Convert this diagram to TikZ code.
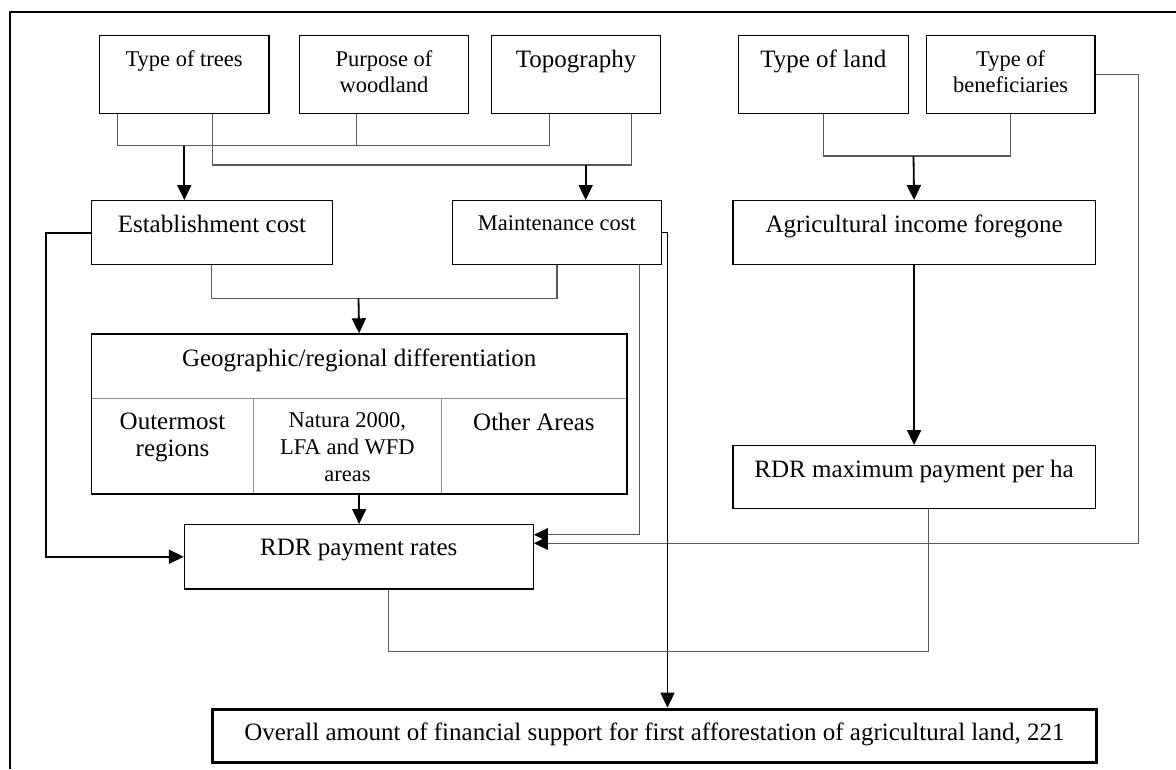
\documentclass[tikz,border=0pt]{standalone}
\usepackage{fontspec}
\setmainfont{Liberation Serif}
\usetikzlibrary{arrows.meta}

\newcommand*{\bigtext}{\fontsize{25}{26.7}\selectfont}
\newcommand*{\smalltext}{\fontsize{22.5}{26.7}\selectfont}

\begin{document}
\begin{tikzpicture}
[
	x=1pt, y=-1pt,
	box/.style={draw,line width=1.2pt,inner sep=0pt,anchor=north west},
	cell/.style={draw=black!45,line width=1pt,inner sep=0pt,anchor=north west},
	txt/.style={anchor=north,inner sep=0pt,yshift=-15pt,align=center},
	btext/.style={label={[txt,font=\bigtext]north:#1}},
	stext/.style={label={[txt,font=\smalltext]north:#1}},
	conn/.style={draw=black!65,line width=1.2pt},
	arr/.style={line width=1.8pt,-{Triangle[length=15pt,width=14pt]}},
	feed/.style={conn,-{Triangle[length=14pt,width=13pt,color=black]}}
]
	\useasboundingbox (0,0) rectangle (1176,769);

	% page frame
	\draw[line width=2pt] (10,769) -- (10,12.3) -- (1176,12.3);

	% factors
	\node[box,minimum width=169.6pt,minimum height=78pt,stext={Type of trees}] (trees) at (98.7,35) {};
	\node[box,minimum width=168.7pt,minimum height=78pt,stext={Purpose of\\woodland}] (purpose) at (299,35) {};
	\node[box,minimum width=169pt,minimum height=78pt,btext={Topography}] (topo) at (491,35) {};
	\node[box,minimum width=169.9pt,minimum height=78pt,btext={Type of land}] (land) at (737.7,35) {};
	\node[box,minimum width=168.6pt,minimum height=78pt,stext={Type of\\beneficiaries}] (benef) at (925.7,35) {};

	% costs
	\node[box,minimum width=241.1pt,minimum height=64pt,btext={Establishment cost}] (estab) at (90.7,200) {};
	\node[box,minimum width=208.6pt,minimum height=64pt,stext={Maintenance cost}] (maint) at (452,200) {};
	\node[box,minimum width=362.2pt,minimum height=64pt,btext={Agricultural income foregone}] (agri) at (732.4,200) {};

	% regional differentiation
	\node[cell,minimum width=162.6pt,minimum height=95.6pt,btext={Outermost\\regions}] (outer) at (90.7,397.7) {};
	\node[cell,minimum width=187.2pt,minimum height=95.6pt,stext={Natura 2000,\\LFA and WFD\\areas}] (natura) at (253.3,397.7) {};
	\node[cell,minimum width=185.9pt,minimum height=95.6pt,btext={Other Areas}] (other) at (440.5,397.7) {};
	\node[box,minimum width=535.7pt,minimum height=160pt,btext={Geographic/regional differentiation}] (geo) at (90.7,333.3) {};

	% payments
	\node[box,minimum width=362.2pt,minimum height=63pt,btext={RDR maximum payment per ha}] (rmax) at (732.4,445) {};
	\node[box,minimum width=348.8pt,minimum height=64.3pt,btext={RDR payment rates}] (rates) at (183.8,524) {};
	\node[box,line width=3pt,minimum width=884.2pt,minimum height=53pt,btext={Overall amount of financial support for first afforestation of agricultural land, 221}] (total) at (210.8,707.7) {};

	% junctions
	\coordinate (jest) at (184.3,145.7);
	\coordinate (jmnt) at (585.7,165);
	\coordinate (jagr) at (913.5,156);
	\coordinate (jgeo) at (358.5,298.3);

	% connectors
	\draw[conn] ([xshift=18.6pt]trees.south west) |- (jest) -| ([xshift=58.3pt]topo.south west);
	\draw[conn] ([xshift=57.7pt]purpose.south west) |- (jest);
	\draw[arr] (jest) -- (jest |- estab.north);

	\draw[conn] ([xshift=113.6pt]trees.south west) |- (jmnt) -| ([xshift=140.3pt]topo.south west);
	\draw[arr] (jmnt) -- (jmnt |- maint.north);

	\draw[conn] (land.south) |- (jagr) -| (benef.south);
	\draw[arr] (jagr) -- (agri.north);

	\draw[conn] (estab.south) |- (jgeo) -| (maint.south);
	\draw[arr] (jgeo) -- (geo.north);
	\draw[arr] (geo.south) -- (geo.south |- rates.north);
	\draw[arr] (agri.south) -- (rmax.north);

	\draw[arr] (estab.west) -- ++(-44.8,0) |- (rates.west);
	\draw[feed] ([xshift=82.7pt]maint.south) |- ([yshift=22pt]rates.east);
	\draw[feed] (benef.east) -- ++(42.7,0) |- ([yshift=13.5pt]rates.east);
	\draw[arr,line width=1.2pt] (maint.east) -| ([xshift=13.1pt]total.north);
	\draw[conn] ([xshift=29.6pt]rates.south) -- ++(0,62) -| ([xshift=14.5pt]rmax.south);

\end{tikzpicture}
\end{document}
